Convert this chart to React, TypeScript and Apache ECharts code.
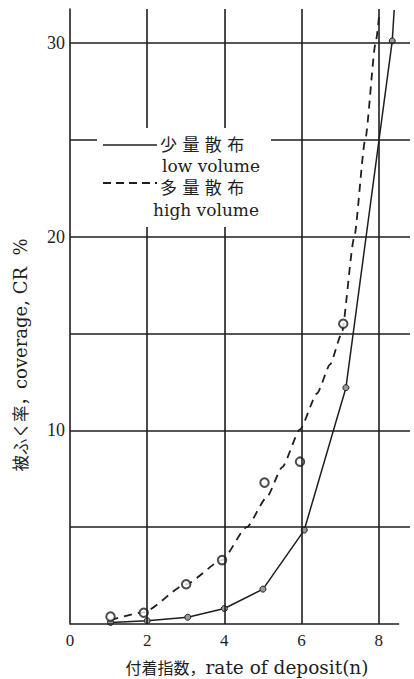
import React, { useEffect, useRef } from "react";
import * as echarts from "echarts";

// Tick values / labels
const xTickValues = [0, 2, 4, 6, 8];
const yTickLabels = [10, 20, 30];
const gridYValues = [5, 10, 15, 20, 25, 30];
const gridXValues = [2, 4, 6, 8];

// 少量散布 low volume (measured points, solid line)
const lowX = [1.05, 2.0, 3.05, 4.0, 5.0, 6.07, 7.15, 8.35];
const lowY = [0.08, 0.17, 0.35, 0.8, 1.8, 4.85, 12.2, 30.1];
// solid line continues past last point to the top of the frame
const lowTail = [8.4, 31.7];

// 多量散布 high volume: observed points (circles)
const highObsX = [1.05, 1.91, 3.01, 3.94, 5.04, 5.96, 7.08];
const highObsY = [0.38, 0.58, 2.05, 3.3, 7.3, 8.38, 15.5];
// fitted dashed curve
const highCurveX = [1.05, 1.91, 3.0, 3.94, 4.58, 5.1, 5.5, 5.96, 6.4, 6.74, 7.04, 7.36, 7.65, 7.92, 8.02];
const highCurveY = [0.2, 0.6, 2.05, 3.3, 5.0, 6.55, 8.1, 10.05, 11.9, 13.4, 15.0, 19.9, 25.0, 30.0, 31.6];

const INK = "#1e1e1e";
const SERIF = "'Liberation Serif', 'Noto Sans CJK JP', serif";
const WIDE = "'DejaVu Serif', 'Noto Sans CJK JP', serif";
const CJK = "'Noto Sans CJK JP', sans-serif";

export default function App() {
  const ref = useRef<HTMLDivElement>(null);
  useEffect(() => {
    if (!ref.current) return;
    const chart = echarts.init(ref.current, undefined, { renderer: "svg" });
    const lowData: any[] = lowX.map((x, i) => [x, lowY[i]]);
    lowData.push({ value: lowTail, symbol: "none" });
    const xNameRich = {
      c: { fontFamily: CJK, fontSize: 16, fill: INK, color: INK },
      l: { fontFamily: WIDE, fontSize: 18.5, fill: INK, color: INK },
    };
    const yNameRich = {
      c: { fontFamily: CJK, fontSize: 16.5, fill: INK, color: INK },
      l: { fontFamily: WIDE, fontSize: 18, fill: INK, color: INK },
    };
    chart.setOption({
      animation: false,
      backgroundColor: "#ffffff",
      grid: { left: 70, right: 4, top: 9, bottom: 55, containLabel: false },
      xAxis: {
        type: "value",
        min: 0,
        max: 8.81,
        interval: 2,
        axisLine: { show: false },
        axisTick: { show: false },
        splitLine: { show: false },
        axisLabel: {
          showMaxLabel: false,
          margin: 8,
          color: INK,
          fontFamily: SERIF,
          fontSize: 17,
          formatter: (v: number) => (xTickValues.includes(v) ? String(v) : ""),
        },
      },
      yAxis: {
        type: "value",
        min: 0,
        max: 31.75,
        interval: 5,
        axisLine: { show: true, lineStyle: { color: INK, width: 1.6 } },
        axisTick: { show: false },
        splitLine: { show: false },
        axisLabel: {
          showMaxLabel: false,
          margin: 5,
          color: INK,
          fontFamily: SERIF,
          fontSize: 18,
          formatter: (v: number) => (yTickLabels.includes(v) ? String(v) : ""),
        },
      },
      series: [
        {
          name: "grid",
          type: "line",
          data: [],
          z: 1,
          silent: true,
          markLine: {
            silent: true,
            symbol: ["none", "none"],
            label: { show: false },
            lineStyle: { color: INK, width: 1.6, type: "solid" },
            data: [
              ...gridYValues.map((v) => ({ yAxis: v })),
              ...gridXValues.map((v) => ({ xAxis: v })),
              [{ coord: [0, 0] }, { coord: [8.53, 0] }],
            ],
          },
        },
        {
          name: "少量散布 low volume",
          type: "line",
          z: 3,
          data: lowData,
          smooth: false,
          symbol: "circle",
          symbolSize: 6,
          lineStyle: { color: INK, width: 1.5 },
          itemStyle: { color: "#9a9a9a", borderColor: INK, borderWidth: 1 },
        },
        {
          name: "多量散布 high volume",
          type: "line",
          z: 3,
          data: highCurveX.map((x, i) => [x, highCurveY[i]]),
          smooth: 0.2,
          smoothMonotone: "x",
          symbol: "none",
          lineStyle: { color: INK, width: 1.8, type: [8, 6] },
        },
        {
          name: "多量散布 observed",
          type: "scatter",
          z: 4,
          data: highObsX.map((x, i) => [x, highObsY[i]]),
          symbol: "circle",
          symbolSize: 8.5,
          itemStyle: { color: "#ffffff", borderColor: INK, borderWidth: 2 },
        },
      ],
      graphic: [
        {
          type: "rect",
          z: 100,
          shape: { x: 97, y: 128, width: 174, height: 99 },
          style: { fill: "#ffffff" },
        },
        {
          type: "line",
          z: 101,
          shape: { x1: 103, y1: 145, x2: 157, y2: 145 },
          style: { stroke: INK, lineWidth: 1.5 },
        },
        {
          type: "text",
          z: 101,
          x: 160,
          y: 145,
          style: { text: "少 量 散 布", fill: INK, font: "17px " + WIDE, verticalAlign: "middle", align: "left" },
        },
        {
          type: "text",
          z: 101,
          x: 162,
          y: 166,
          style: { text: "low volume", fill: INK, font: "17px " + WIDE, verticalAlign: "middle", align: "left" },
        },
        {
          type: "line",
          z: 101,
          shape: { x1: 103, y1: 183, x2: 157, y2: 183 },
          style: { stroke: INK, lineWidth: 1.8, lineDash: [8, 5] },
        },
        {
          type: "text",
          z: 101,
          x: 160,
          y: 188,
          style: { text: "多 量 散 布", fill: INK, font: "17px " + WIDE, verticalAlign: "middle", align: "left" },
        },
        {
          type: "text",
          z: 101,
          x: 153,
          y: 210,
          style: { text: "high volume", fill: INK, font: "17px " + WIDE, verticalAlign: "middle", align: "left" },
        },
        {
          type: "text",
          z: 101,
          x: 247,
          y: 667,
          style: {
            text: "{c|付着指数，}{l|rate of deposit(n)}",
            rich: xNameRich,
            fill: INK,
            align: "center",
            verticalAlign: "middle",
          },
        },
        {
          type: "text",
          z: 101,
          x: 20,
          y: 355,
          rotation: Math.PI / 2,
          style: {
            text: "{c|被ふく率，}{l|coverage, CR  %}",
            rich: yNameRich,
            fill: INK,
            align: "center",
            verticalAlign: "middle",
          },
        },
      ],
    });
    return () => chart.dispose();
  }, []);
  return <div ref={ref} style={{ width: 414, height: 679, position: "absolute", left: 0, top: 0 }} />;
}
